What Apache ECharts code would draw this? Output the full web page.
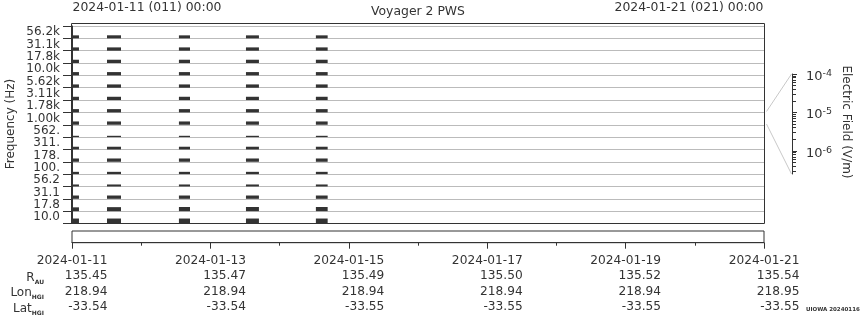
<!DOCTYPE html>
<html><head><meta charset="utf-8">
<script src="https://cdn.jsdelivr.net/npm/echarts@6/dist/echarts.min.js"></script>
<style>html,body{margin:0;padding:0;background:#fff}#c{width:860px;height:320px}</style>
</head><body><div id="c"></div>
<script>
// ---------- data ----------
const channels = ['10.0','17.8','31.1','56.2','100.','178.','311.','562.','1.00k','1.78k','3.11k','5.62k','10.0k','17.8k','31.1k','56.2k'];
const segStart = ['2024-01-11T00:00','2024-01-11T12:08','2024-01-12T13:05','2024-01-13T12:20','2024-01-14T12:35'];
const segEnd   = ['2024-01-11T02:25','2024-01-11T17:00','2024-01-12T16:55','2024-01-13T16:50','2024-01-14T16:40'];
// electric field amplitude (V/m) per channel, same order as channels
const ampSeg1 = [2.8e-6,1.6e-6,1.24e-6,6.6e-7,7.6e-7,1.24e-6,9.3e-7,4.7e-7,1.24e-6,1.24e-6,1.24e-6,1.24e-6,1.24e-6,1.24e-6,1.24e-6,1.07e-6];
const ampSeg2 = [2.8e-6,1.75e-6,1.24e-6,6.6e-7,7.6e-7,1.24e-6,9.3e-7,4.7e-7,1.24e-6,1.24e-6,1.24e-6,1.24e-6,1.24e-6,1.24e-6,1.24e-6,1.1e-6];
const ampSeg3 = [2.8e-6,1.9e-6,1.24e-6,6.6e-7,7.6e-7,1.24e-6,9.3e-7,4.7e-7,1.24e-6,1.24e-6,1.24e-6,1.24e-6,1.24e-6,1.24e-6,1.24e-6,1.07e-6];
const ampSeg4 = [2.8e-6,1.9e-6,1.24e-6,6.6e-7,7.6e-7,1.24e-6,9.3e-7,4.7e-7,1.24e-6,1.24e-6,1.24e-6,1.24e-6,1.24e-6,1.24e-6,1.24e-6,1.07e-6];
const ampSeg5 = [2.8e-6,1.9e-6,1.24e-6,6.6e-7,7.6e-7,1.24e-6,9.3e-7,4.7e-7,1.24e-6,1.24e-6,1.24e-6,1.24e-6,1.24e-6,1.24e-6,1.24e-6,1.07e-6];
const fieldMin = 2.5e-7, fieldMax = 1e-4;
const fieldTickExp = [-6, -5, -4];
const tickDates = ['2024-01-11','2024-01-13','2024-01-15','2024-01-17','2024-01-19','2024-01-21'];
const rAU    = ['135.45','135.47','135.49','135.50','135.52','135.54'];
const lonHGI = ['218.94','218.94','218.94','218.94','218.94','218.95'];
const latHGI = ['-33.54','-33.54','-33.55','-33.55','-33.55','-33.55'];
const startLabel = '2024-01-11 (011) 00:00';
const endLabel = '2024-01-21 (021) 00:00';
const titleText = 'Voyager 2 PWS';
const startTime = '2024-01-11T00:00';
const spanDays = 10;

// ---------- build ----------
const T0 = Date.parse(startTime + ':00Z');
const dayOf = s => (Date.parse(s + ':00Z') - T0) / 86400000;
const LOGMIN = Math.log10(fieldMin), LOGMAX = Math.log10(fieldMax);
const amps = [ampSeg1, ampSeg2, ampSeg3, ampSeg4, ampSeg5];
const data = [];
amps.forEach((arr, s) => arr.forEach((e, ch) => data.push([dayOf(segStart[s]), dayOf(segEnd[s]), ch, e])));
const minorExp = [];
for (let n = -7; n <= -5; n++) for (let k = 2; k <= 9; k++) {
  const v = Math.log10(k * Math.pow(10, n));
  if (v > LOGMIN && v < LOGMAX) minorExp.push(v);
}
const FONT = 'DejaVu Sans', TXT = '#333';
const subRich = {m: {fontSize: 12, lineHeight: 15, fontFamily: FONT, fill: TXT}, s: {fontSize: 6, fontWeight: 'bold', lineHeight: 7, verticalAlign: 'bottom', fontFamily: FONT, fill: TXT}};
const chart = echarts.init(document.getElementById('c'), null, {renderer: 'canvas'});
const option = {
  animation: false,
  textStyle: {fontFamily: FONT, color: TXT},
  grid: [
    {left: 72, width: 692, top: 26, height: 197.5},
    {left: 72, width: 692, top: 231, height: 11.7, show: true, borderColor: '#333', borderWidth: 1},
    {left: 792, width: 1, top: 74, height: 100}
  ],
  xAxis: [
    {gridIndex: 0, type: 'value', min: 0, max: spanDays, show: false},
    {gridIndex: 1, type: 'value', min: 0, max: spanDays, interval: 2, position: 'bottom',
      axisLine: {show: true, lineStyle: {color: '#333'}},
      axisTick: {show: true, length: 6, lineStyle: {color: '#333'}},
      minorTick: {show: true, splitNumber: 2, length: 3, lineStyle: {color: '#333'}},
      splitLine: {show: false},
      axisLabel: {margin: 10.5, color: TXT, fontFamily: FONT,
        formatter: v => { const i = Math.round(v / 2); return '{d|' + tickDates[i] + '}\n{v|' + rAU[i] + '}\n{v|' + lonHGI[i] + '}\n{v|' + latHGI[i] + '}'; },
        rich: {
          d: {width: 71, align: 'right', fontSize: 12.2, lineHeight: 15.3, fontFamily: FONT, color: TXT},
          v: {width: 71, align: 'right', fontSize: 12.2, lineHeight: 15.3, fontFamily: FONT, color: TXT}
        }}},
    {gridIndex: 2, type: 'value', show: false}
  ],
  yAxis: [
    {gridIndex: 0, type: 'category', data: channels, boundaryGap: true, position: 'left',
      axisLine: {show: true, lineStyle: {color: '#333'}},
      axisTick: {show: true, length: 9, interval: 0, lineStyle: {color: '#333'}},
      axisLabel: {interval: 0, margin: 12, fontSize: 12, color: TXT, fontFamily: FONT},
      splitLine: {show: true, interval: 0, lineStyle: {color: '#bbb', width: 1}}},
    {gridIndex: 0, type: 'value', min: 0, max: channels.length, show: false},
    {gridIndex: 2, type: 'value', min: LOGMIN, max: LOGMAX, position: 'right',
      axisLine: {show: true, lineStyle: {color: '#333'}},
      axisTick: {show: true, customValues: fieldTickExp, length: 5, lineStyle: {color: '#333'}},
      axisLabel: {show: true, customValues: fieldTickExp, margin: 13, padding: [5, 0, 0, 0],
        formatter: v => '{b|10}{s|' + Math.round(v) + '}',
        rich: {
          b: {fontSize: 13, lineHeight: 16, fontFamily: FONT, color: TXT},
          s: {fontSize: 9.5, lineHeight: 10, verticalAlign: 'top', fontFamily: FONT, color: TXT}
        }},
      splitLine: {show: false}},
    {gridIndex: 2, type: 'value', min: LOGMIN, max: LOGMAX, position: 'right',
      axisLine: {show: false},
      axisTick: {show: true, customValues: minorExp, length: 3, lineStyle: {color: '#333'}},
      axisLabel: {show: false}, splitLine: {show: false}},
    {gridIndex: 1, type: 'value', min: 0, max: 1, show: false}
  ],
  series: [{
    type: 'custom', xAxisIndex: 0, yAxisIndex: 1,
    encode: {x: [0, 1], y: 2},
    data: data,
    renderItem: (params, api) => {
      const t0 = api.value(0), t1 = api.value(1), ch = api.value(2), e = api.value(3);
      const frac = (Math.log10(e) - LOGMIN) / (LOGMAX - LOGMIN);
      const p0 = api.coord([t0, ch]);
      const p1 = api.coord([t1, ch + frac]);
      return {type: 'rect', shape: {x: p0[0], y: p1[1], width: p1[0] - p0[0], height: p0[1] - p1[1]}, style: {fill: '#333'}};
    }
  }],
  graphic: [
    {type: 'rect', z: 100, shape: {x: 71.5, y: 23.5, width: 693, height: 200}, style: {fill: 'none', stroke: '#333', lineWidth: 1}},
    {type: 'line', z: 90, shape: {x1: 766.5, y1: 111.5, x2: 791.5, y2: 74}, style: {stroke: '#c8c8c8', lineWidth: 1}},
    {type: 'line', z: 90, shape: {x1: 766.5, y1: 124, x2: 791.5, y2: 174}, style: {stroke: '#c8c8c8', lineWidth: 1}},
    {type: 'text', x: 72.5, y: 7.5, style: {text: startLabel, fontSize: 12.4, fontFamily: FONT, fill: TXT, align: 'left', verticalAlign: 'middle'}},
    {type: 'text', x: 763.5, y: 7.5, style: {text: endLabel, fontSize: 12.4, fontFamily: FONT, fill: TXT, align: 'right', verticalAlign: 'middle'}},
    {type: 'text', x: 418, y: 11.5, style: {text: titleText, fontSize: 12.4, fontFamily: FONT, fill: TXT, align: 'center', verticalAlign: 'middle'}},
    {type: 'text', x: 11, y: 124, rotation: Math.PI / 2, style: {text: 'Frequency (Hz)', fontSize: 12, fontFamily: FONT, fill: TXT, align: 'center', verticalAlign: 'middle'}},
    {type: 'text', x: 846, y: 122, rotation: -Math.PI / 2, style: {text: 'Electric Field (V/m)', fontSize: 12, fontFamily: FONT, fill: TXT, align: 'center', verticalAlign: 'middle'}},
    {type: 'text', x: 44, y: 278, style: {text: '{m|R}{s|AU}', align: 'right', verticalAlign: 'middle', rich: subRich}},
    {type: 'text', x: 44, y: 293.3, style: {text: '{m|Lon}{s|HGI}', align: 'right', verticalAlign: 'middle', rich: subRich}},
    {type: 'text', x: 44, y: 308.6, style: {text: '{m|Lat}{s|HGI}', align: 'right', verticalAlign: 'middle', rich: subRich}},
    {type: 'text', x: 806, y: 309.5, style: {text: 'UIOWA 20240116', fontSize: 5.5, fontWeight: 'bold', fontFamily: FONT, fill: TXT, align: 'left', verticalAlign: 'middle'}}
  ]
};
chart.setOption(option);
</script>
</body></html>
